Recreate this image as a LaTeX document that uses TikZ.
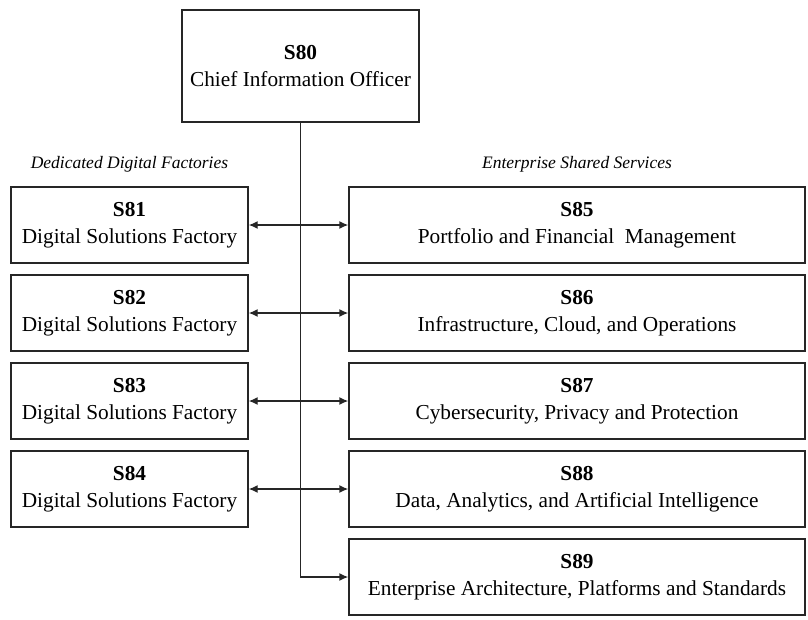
\documentclass[tikz,border=0pt]{standalone}
\usepackage{fontspec}
\setmainfont{Liberation Serif}
\usetikzlibrary{positioning,arrows.meta}

\tikzset{
  unit/.style={draw=black!85, line width=1.4pt, align=center, inner sep=0pt,
    font=\fontsize{21.3}{27}\selectfont, minimum height=76pt},
  factory/.style={unit, minimum width=237pt},
  service/.style={unit, minimum width=456pt},
  group/.style={inner sep=0pt, font=\fontsize{17.5}{21}\selectfont\itshape},
  link/.style={line width=1.4pt, draw=black!85},
}

\begin{document}
\begin{tikzpicture}[x=1pt,y=-1pt,>={Latex[length=9pt,width=8pt]},node distance=10.6pt]
\useasboundingbox (0,0) rectangle (808,619);
%%First place the nodes
\node[unit,minimum width=237pt,minimum height=112pt] (s80) at (300.5,66) {\textbf{S80}\\Chief Information Officer};
\node[factory] (s81) at (129.5,225) {\textbf{S81}\\Digital Solutions Factory};
\node[factory] (s82) [below=of s81] {\textbf{S82}\\Digital Solutions Factory};
\node[factory] (s83) [below=of s82] {\textbf{S83}\\Digital Solutions Factory};
\node[factory] (s84) [below=of s83] {\textbf{S84}\\Digital Solutions Factory};
\node[service] (s85) [right=99.6pt of s81] {\textbf{S85}\\Portfolio and Financial\ \ Management};
\node[service] (s86) [below=of s85] {\textbf{S86}\\Infrastructure, Cloud, and Operations};
\node[service] (s87) [below=of s86] {\textbf{S87}\\Cybersecurity, Privacy and Protection};
\node[service] (s88) [below=of s87] {\textbf{S88}\\Data, Analytics, and Artificial Intelligence};
\node[service] (s89) [below=of s88] {\textbf{S89}\\Enterprise Architecture, Platforms and Standards};
%%Group titles
\node[group] (ddf) [above=14pt of s81] {Dedicated Digital Factories};
\node[group] (ess) [above=14pt of s85] {Enterprise Shared Services};
%%Draw the trunk line
\coordinate (bend) at (s80.south |- s89.west);
\draw[->,link] (s80.south) -- (bend) -- (s89.west);
%%Draw the double arrows
\foreach \f/\s in {s81/s85,s82/s86,s83/s87,s84/s88}
  \draw[<->,link] (\f.east) -- (\f.east -| \s.west);
\end{tikzpicture}
\end{document}
